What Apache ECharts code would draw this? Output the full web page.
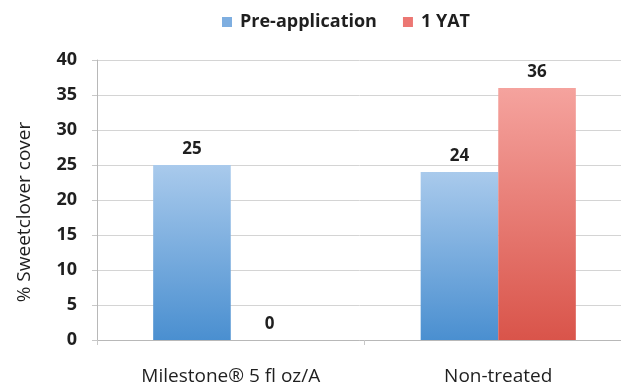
<!DOCTYPE html>
<html>
<head>
<meta charset="utf-8">
<script src="https://cdn.jsdelivr.net/npm/echarts@6/dist/echarts.min.js"></script>
<style>
  html, body { margin: 0; padding: 0; background: #fff; }
  #chart { width: 621px; height: 388px; }
</style>
</head>
<body>
<div id="chart"></div>
<script>
// Treatments on the x axis
const categories = ['Milestone\u00AE 5 fl oz/A', 'Non-treated'];
// Sweetclover cover (%) before application and one year after treatment
const preApplication = [25, 24];
const oneYAT = [0, 36];
const seriesNames = ['Pre-application', '1 YAT'];
const yTicks = { min: 0, max: 40, interval: 5 };

const font = '"Open Sans", "Noto Sans", Arial, sans-serif';

function grad(top, bottom) {
  return new echarts.graphic.LinearGradient(0, 0, 0, 1, [
    { offset: 0, color: top },
    { offset: 1, color: bottom }
  ]);
}

const labelStyle = {
  show: true,
  position: 'top',
  distance: 7,
  color: '#1f1f1f',
  fontFamily: font,
  fontWeight: 'bold',
  fontSize: 17
};

const chart = echarts.init(document.getElementById('chart'));
chart.setOption({
  animation: false,
  backgroundColor: '#ffffff',
  legend: {
    top: 8,
    left: 217,
    itemWidth: 10,
    itemHeight: 10,
    itemGap: 26,
    icon: 'rect',
    textStyle: { fontFamily: font, fontSize: 18, fontWeight: 'bold', color: '#1f1f1f', padding: [0, 0, 0, 3] },
    data: [
      { name: seriesNames[0], itemStyle: { color: '#7eaee0' } },
      { name: seriesNames[1], itemStyle: { color: '#ec7773' } }
    ]
  },
  // the plot area runs past the right edge of the canvas
  grid: { left: 97, width: 535, top: 60, bottom: 48, containLabel: false, outerBoundsMode: 'none' },
  xAxis: {
    type: 'category',
    data: categories,
    axisLine: { lineStyle: { color: '#b8b8b8', width: 1 } },
    axisTick: { show: true, length: 5, alignWithLabel: false, lineStyle: { color: '#c8c8c8' } },
    axisLabel: { margin: 27, fontFamily: font, fontSize: 19, color: '#1f1f1f' }
  },
  yAxis: {
    type: 'value',
    min: yTicks.min,
    max: yTicks.max,
    interval: yTicks.interval,
    name: '% Sweetclover cover',
    nameLocation: 'middle',
    nameGap: 63,
    nameTextStyle: { fontFamily: font, fontSize: 19, color: '#1f1f1f', padding: [0, 24, 0, 0] },
    axisLine: { show: true, lineStyle: { color: '#b8b8b8' } },
    axisTick: { show: true, length: 5, inside: false, lineStyle: { color: '#c8c8c8' } },
    axisLabel: { margin: 20, fontFamily: font, fontSize: 18, fontWeight: 'bold', color: '#1f1f1f' },
    splitLine: { lineStyle: { color: '#d4d4d4', width: 1 } }
  },
  series: [
    {
      name: seriesNames[0],
      type: 'bar',
      data: preApplication,
      barGap: '0%',
      barCategoryGap: '42%',
      itemStyle: { color: grad('#a9caec', '#4a8fd0') },
      label: labelStyle
    },
    {
      name: seriesNames[1],
      type: 'bar',
      data: oneYAT,
      itemStyle: { color: grad('#f5a39e', '#d9544a') },
      label: labelStyle
    }
  ]
});
</script>
</body>
</html>
